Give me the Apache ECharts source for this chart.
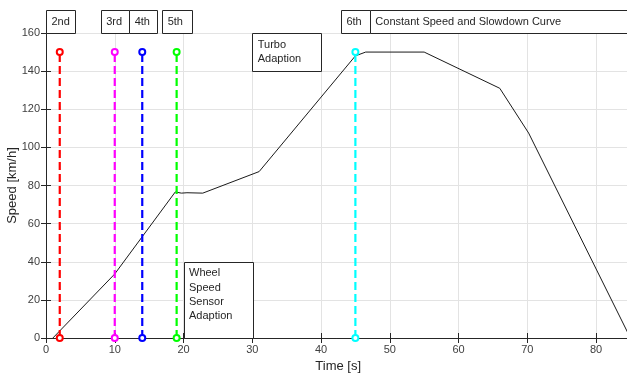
<!DOCTYPE html>
<html>
<head>
<meta charset="utf-8">
<script src="https://cdn.jsdelivr.net/npm/echarts@6/dist/echarts.min.js"></script>
<style>html,body{margin:0;padding:0;background:#fff}#c{width:627px;height:373px}</style>
</head>
<body>
<div id="c"></div>
<script>
// ---- data ----
const timeS = [1, 10, 18.8, 19.7, 20.5, 22.8, 31, 45, 46.5, 55, 66, 70.2, 85];
const speedKmh = [0, 33.6, 76.6, 76, 76.2, 76, 87.3, 148, 150, 150, 131, 107.5, 0];

const gearNames = ['2nd', '3rd', '4th', '5th', '6th'];
const gearShiftTimes = [2, 10, 14, 19, 45];
const gearMarkerTop = 150;
const gearMarkerBottom = 0;

const headerLabels = ['2nd', '3rd', '4th', '5th', '6th', 'Constant Speed and Slowdown Curve'];
const headerFrom = [0, 7.95, 12.1, 16.9, 42.9, 47.1];
const headerTo = [4.2, 12.05, 16.2, 21.2, 47.1, 95];
const headerBottom = 160;
const headerTop = 172;

const noteLabels = ['Turbo\nAdaption', 'Wheel\nSpeed\nSensor\nAdaption'];
const noteX0 = [30, 20];
const noteX1 = [40, 30];
const noteY0 = [140, 0];
const noteY1 = [160, 40];

const xTicks = {min: 0, max: 85, interval: 10};
const yTicks = {min: 0, max: 160, interval: 20};

// ---- styles ----
const gearColors = ['#ff0000', '#ff00ff', '#0000ff', '#00ff00', '#00ffff'];
const FONT = 'Arial, "Liberation Sans", Helvetica, sans-serif';
const txt = '#262626';

const chart = echarts.init(document.getElementById('c'), null, {renderer: 'canvas'});

function boxItem(labels, x0, x1, y0, y1, opts) {
  return function (params, api) {
    const i = params.dataIndex;
    const p0 = api.coord([x0[i], y1[i]]);
    const p1 = api.coord([x1[i], y0[i]]);
    const w = p1[0] - p0[0], h = p1[1] - p0[1];
    const children = [{
      type: 'rect',
      shape: {x: Math.round(p0[0]) + 0.5, y: Math.round(p0[1]) + 0.5, width: Math.round(w), height: Math.round(h)},
      style: {fill: '#fff', stroke: '#262626', lineWidth: 1}
    }, {
      type: 'text',
      style: {
        text: labels[i],
        x: p0[0] + opts.padX,
        y: opts.center ? p0[1] + h / 2 : p0[1] + opts.padY,
        fill: txt,
        font: '11px ' + FONT,
        align: 'left',
        verticalAlign: opts.center ? 'middle' : 'top',
        lineHeight: 14.3
      }
    }];
    return {type: 'group', children: children};
  };
}

const series = [];
series.push({
  type: 'line',
  data: timeS.map((t, i) => [t, speedKmh[i]]),
  symbol: 'none',
  lineStyle: {color: '#1a1a1a', width: 1},
  z: 3,
  animation: false
});
gearShiftTimes.forEach((t, i) => {
  series.push({
    type: 'line',
    name: gearNames[i],
    data: [[t, gearMarkerBottom], [t, gearMarkerTop]],
    symbol: 'emptyCircle',
    symbolSize: 6,
    itemStyle: {color: gearColors[i], borderColor: gearColors[i], borderWidth: 2},
    lineStyle: {color: gearColors[i], width: 2.2, type: [8, 4]},
    z: 4,
    clip: false,
    animation: false
  });
});
series.push({
  type: 'custom',
  renderItem: boxItem(headerLabels, headerFrom, headerTo, Array(6).fill(headerBottom), Array(6).fill(headerTop), {padX: 5.5, center: true}),
  data: headerLabels.map((_, i) => [headerFrom[i], headerBottom]),
  clip: false,
  z: 5,
  animation: false
});
series.push({
  type: 'custom',
  renderItem: boxItem(noteLabels, noteX0, noteX1, noteY0, noteY1, {padX: 5.5, padY: 4.5, center: false}),
  data: noteLabels.map((_, i) => [noteX0[i], noteY0[i]]),
  clip: false,
  z: 5,
  animation: false
});

const axisLineStyle = {lineStyle: {color: '#262626', width: 1}};
chart.setOption({
  animation: false,
  backgroundColor: '#fff',
  grid: {left: 46, top: 33, width: 584.4, height: 305, containLabel: false, outerBoundsMode: 'none'},
  xAxis: [{
    type: 'value', min: xTicks.min, max: xTicks.max, interval: xTicks.interval,
    name: 'Time [s]', nameLocation: 'middle', nameGap: 22, nameMoveOverlap: false,
    nameTextStyle: {color: txt, fontSize: 13, fontFamily: FONT},
    axisLine: axisLineStyle,
    axisTick: {inside: true, length: 5, lineStyle: {color: '#262626'}},
    axisLabel: {color: '#404040', fontSize: 11, fontFamily: FONT, margin: 6, showMaxLabel: false},
    splitLine: {show: true, lineStyle: {color: '#e3e3e3', width: 1}}
  }, {
    type: 'value', position: 'top', min: xTicks.min, max: xTicks.max, interval: xTicks.interval,
    axisLine: axisLineStyle,
    axisTick: {inside: true, length: 5, lineStyle: {color: '#262626'}},
    axisLabel: {show: false},
    splitLine: {show: false}
  }],
  yAxis: [{
    type: 'value', min: yTicks.min, max: yTicks.max, interval: yTicks.interval,
    name: 'Speed [km/h]', nameLocation: 'middle', nameGap: 27, nameRotate: 90, nameMoveOverlap: false,
    nameTextStyle: {color: txt, fontSize: 13, fontFamily: FONT},
    axisLine: {show: true, lineStyle: {color: '#262626', width: 1}},
    axisTick: {show: true, inside: true, length: 5, lineStyle: {color: '#262626'}},
    axisLabel: {color: '#404040', fontSize: 11, fontFamily: FONT, margin: 6},
    splitLine: {show: true, lineStyle: {color: '#e3e3e3', width: 1}}
  }, {
    type: 'value', position: 'right', min: yTicks.min, max: yTicks.max, interval: yTicks.interval,
    axisLine: {show: true, lineStyle: {color: '#262626', width: 1}},
    axisTick: {show: true, inside: true, length: 5, lineStyle: {color: '#262626'}},
    axisLabel: {show: false},
    splitLine: {show: false}
  }],
  series: series
});
</script>
</body>
</html>
